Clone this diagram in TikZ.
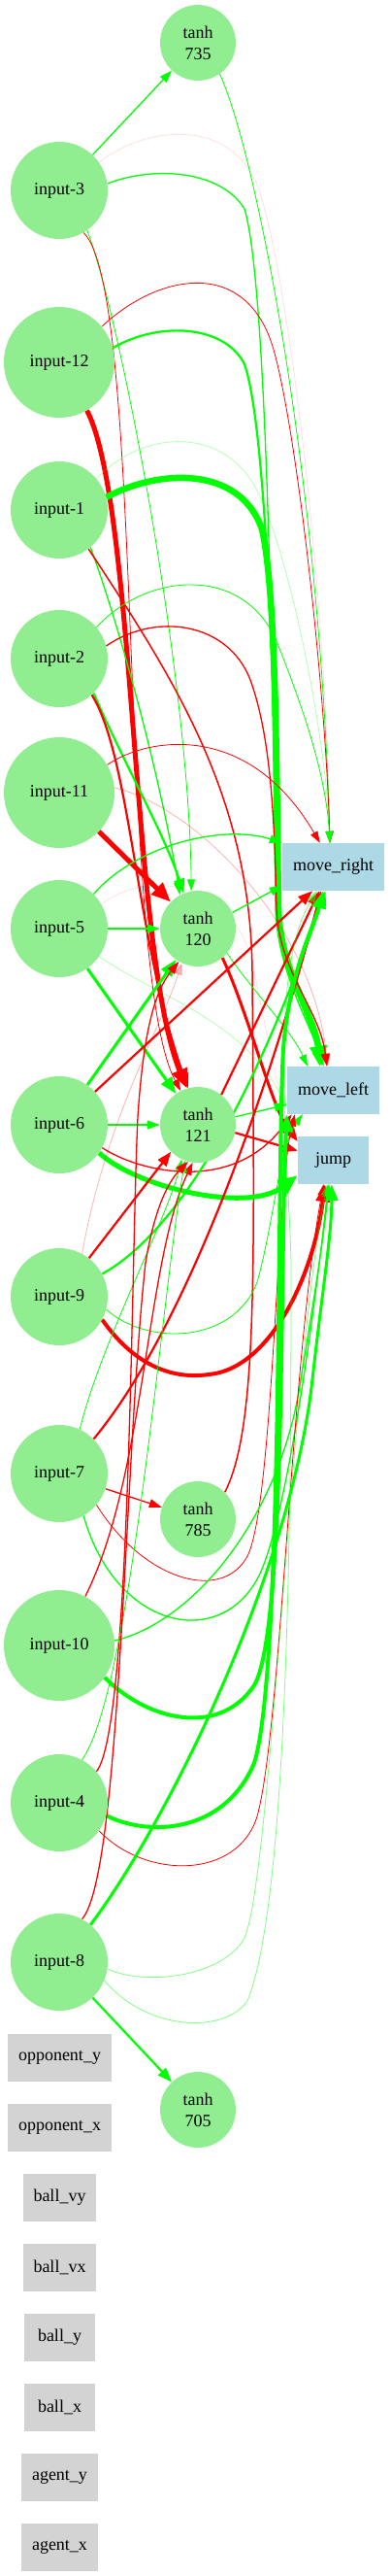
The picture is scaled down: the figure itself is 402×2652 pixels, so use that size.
\documentclass[tikz,border=0pt]{standalone}
\usepackage{fontspec}
\setmainfont{Liberation Serif}
\usetikzlibrary{arrows.meta}
\definecolor{nodegreen}{HTML}{90EE90}
\definecolor{outblue}{HTML}{ADD8E6}
\definecolor{ingray}{HTML}{D3D3D3}
\pgfdeclarelayer{edges}
\pgfsetlayers{edges,main}
\tikzset{
  inp/.style={circle, fill=nodegreen, minimum size=100pt, inner sep=0pt},
  biginp/.style={inp, minimum size=114pt},
  hid/.style={inp, minimum size=78pt, align=center},
  outbox/.style={rectangle, fill=outblue, minimum width=73pt, minimum height=49pt, inner xsep=11pt},
  unusedbox/.style={outbox, fill=ingray},
  excite/.style={color=green},
  inhibit/.style={color=red},
  faint/.style={opacity=0.3},
  vfaint/.style={opacity=0.12},
  half/.style={opacity=0.5},
  wa/.style={line width=0.8pt, -{Triangle[length=12pt,width=8pt]}},
  wb/.style={line width=1.3pt, -{Triangle[length=13pt,width=9pt]}},
  wc/.style={line width=2.2pt, -{Triangle[length=15pt,width=11pt]}},
  wd/.style={line width=3pt, -{Triangle[length=17pt,width=13pt]}},
  wde/.style={line width=4pt, -{Triangle[length=18pt,width=14pt]}},
  we/.style={line width=5pt, -{Triangle[length=20pt,width=16pt]}},
  wf/.style={line width=6.5pt, -{Triangle[length=21pt,width=17pt]}}
}
\begin{document}
\begin{tikzpicture}[x=1pt, y=-1pt, font=\fontsize{18}{22}\selectfont]
        \useasboundingbox (0,0) rectangle (402,2652);
        \node[inp] (in3) at (61,196) {input-3};
        \node[biginp] (in12) at (61,373) {input-12};
        \node[inp] (in1) at (61,525) {input-1};
        \node[inp] (in2) at (61,678) {input-2};
        \node[biginp] (in11) at (61,816) {input-11};
        \node[inp] (in5) at (61,956) {input-5};
        \node[inp] (in6) at (61,1158) {input-6};
        \node[inp] (in9) at (61,1335) {input-9};
        \node[inp] (in7) at (61,1517) {input-7};
        \node[biginp] (in10) at (61,1694) {input-10};
        \node[inp] (in4) at (61,1856) {input-4};
        \node[inp] (in8) at (61,2020) {input-8};
        \node[hid] (t735) at (204,44) {tanh\\735};
        \node[hid] (t120) at (204,956) {tanh\\120};
        \node[hid] (t121) at (204,1158) {tanh\\121};
        \node[hid] (t785) at (204,1564) {tanh\\785};
        \node[hid] (t705) at (204,2172) {tanh\\705};
        \node[outbox] (mr) at (343.5,892.5) {move\_right};
        \node[outbox] (ml) at (343.5,1122.5) {move\_left};
        \node[outbox] (jump) at (343.5,1194.5) {jump};
        \node[unusedbox] (oppy) at (61.5,2118.5) {opponent\_y};
        \node[unusedbox] (oppx) at (61.5,2190.5) {opponent\_x};
        \node[unusedbox] (ballvy) at (61.5,2262.5) {ball\_vy};
        \node[unusedbox] (ballvx) at (61.5,2334.5) {ball\_vx};
        \node[unusedbox] (bally) at (61.5,2406.5) {ball\_y};
        \node[unusedbox] (ballx) at (61.5,2478.5) {ball\_x};
        \node[unusedbox] (agenty) at (61.5,2550.5) {agent\_y};
        \node[unusedbox] (agentx) at (61.5,2622.5) {agent\_x};
        \begin{pgfonlayer}{edges}
        \draw (in3) edge[excite,wb] (t735);
        \draw[inhibit,wa,vfaint] (in3.35) .. controls (150,130) and (235,120) .. (265,190) .. controls (295,270) and (336,600) .. (mr.98);
        \draw[excite,wb] (in3.8) .. controls (160,170) and (228,176) .. (252,215) .. controls (278,300) and (282,800) .. (284,935) .. controls (286,1000) and (318,1050) .. (ml.112);
        \draw[excite,wa] (in3.-55) .. controls (125,330) and (195,700) .. (t120.100);
        \draw[inhibit,wa] (in3.-60) .. controls (150,300) and (120,1000) .. (t121.117);
        \draw[excite,wa] (t735.-55) .. controls (265,160) and (330,500) .. (mr.98);
        \draw[inhibit,wa] (in12.40) .. controls (165,280) and (255,265) .. (282,360) .. controls (305,440) and (335,700) .. (mr.98);
        \draw[excite,wc] (in12.15) .. controls (165,330) and (232,335) .. (252,375) .. controls (278,450) and (284,800) .. (287,935) .. controls (290,1000) and (322,1050) .. (ml.119);
        \draw[inhibit,we] (in12.-60) .. controls (140,520) and (135,980) .. (t121.107);
        \draw[excite,wa,faint] (in1.40) .. controls (150,440) and (232,440) .. (265,505) .. controls (300,575) and (336,760) .. (mr.98);
        \draw[excite,wf] (in1.15) .. controls (165,482) and (248,480) .. (270,545) .. controls (285,610) and (285,800) .. (287,935) .. controls (289,1000) and (322,1040) .. (ml.116);
        \draw[excite,wb] (in1.-50) .. controls (125,650) and (165,800) .. (t120.118);
        \draw[inhibit,line width=1.5pt] (in1.-53) .. controls (180,700) and (258,820) .. (260,1000) .. controls (262,1300) and (266,1470) .. (t785.45);
        \draw[excite,wa] (in2.40) .. controls (150,590) and (250,580) .. (285,660) .. controls (315,735) and (336,800) .. (mr.98);
        \draw[inhibit,wb] (in2.15) .. controls (160,630) and (235,640) .. (258,700) .. controls (280,760) and (283,850) .. (285,935) .. controls (287,1000) and (330,1040) .. (ml.105);
        \draw[excite,wc] (in2.-45) .. controls (125,780) and (170,860) .. (t120.112);
        \draw[inhibit,wc] (in2.-48) .. controls (135,780) and (140,970) .. (t121.105);
        \draw[inhibit,wa] (in11.30) .. controls (150,760) and (255,740) .. (mr.119);
        \draw (in11) edge[inhibit,we] (t120);
        \draw[inhibit,wa,faint] (in11.5) .. controls (200,830) and (322,950) .. (ml.103);
        \draw[excite,wb] (in5.45) .. controls (140,870) and (230,848) .. (mr.north west);
        \draw (in5) edge[excite,wb] (t120);
        \draw (in5) edge[excite,wd] (t121);
        \draw[excite,wa,faint] (in5.-35) .. controls (170,1030) and (250,1050) .. (ml.200);
        \draw[inhibit,wa,vfaint] (in5.30) .. controls (150,895) and (245,905) .. (262,1000) .. controls (278,1080) and (292,1150) .. (jump.150);
        \draw (t120.25) edge[excite,wb] (mr.200);
        \draw[excite,wa] (t120.-40) .. controls (260,1020) and (300,1060) .. (ml.137);
        \draw[inhibit,wd] (t120.-50) .. controls (255,1040) and (280,1140) .. (jump.152);
        \draw (in6) edge[excite,wd] (t120);
        \draw (in6) edge[inhibit,wc] (mr.229);
        \draw (in6) edge[excite,wb] (t121);
        \draw[excite,we] (in6.-35) .. controls (140,1222) and (255,1250) .. (jump.203);
        \draw[inhibit,wb] (in6.-28) .. controls (140,1205) and (240,1232) .. (ml.210);
        \draw (t121.12) edge[excite,wb] (ml.197);
        \draw (t121.-12) edge[inhibit,wc] (jump.165);
        \draw (t121.52) edge[inhibit,wc] (mr.240);
        \draw (in9) edge[inhibit,wc] (t121.225);
        \draw[excite,wc] (in9.28) .. controls (190,1265) and (270,1110) .. (mr.252);
        \draw[inhibit,wde] (in9.-28) .. controls (140,1408) and (180,1420) .. (215,1415) .. controls (275,1410) and (322,1320) .. (jump.251);
        \draw[excite,wa] (in9.-15) .. controls (150,1385) and (240,1385) .. (265,1320) .. controls (282,1260) and (288,1180) .. (ml.218);
        \draw[inhibit,wa,faint] (in9.62) .. controls (110,1150) and (165,1060) .. (t120.245);
        \draw[inhibit,wc] (in7.45) .. controls (185,1375) and (270,1150) .. (mr.243);
        \draw (in7) edge[inhibit,wb] (t785);
        \draw[excite,wa] (in7.65) .. controls (105,1380) and (170,1260) .. (t121.245);
        \draw[inhibit,wa] (in7.-40) .. controls (150,1630) and (232,1650) .. (256,1600) .. controls (282,1540) and (285,1220) .. (ml.212);
        \draw[excite,wb] (in7.-60) .. controls (120,1680) and (230,1700) .. (268,1620) .. controls (300,1550) and (330,1300) .. (jump.258);
        \draw[inhibit,wb] (in10.62) .. controls (150,1520) and (150,1300) .. (t121.262);
        \draw[excite,wb] (in10.5) .. controls (200,1670) and (290,1560) .. (310,1420) .. controls (325,1330) and (334,1270) .. (jump.260);
        \draw[excite,wde] (in10.-35) .. controls (150,1770) and (225,1790) .. (262,1735) .. controls (295,1680) and (288,1300) .. (ml.south west);
        \draw[excite,wde] (in4.-15) .. controls (150,1890) and (230,1890) .. (262,1815) .. controls (292,1720) and (285,1200) .. (292,1080) .. controls (298,1000) and (325,950) .. (mr.247);
        \draw[inhibit,wb] (in4.40) .. controls (135,1780) and (135,1300) .. (142,1150) .. controls (148,1060) and (160,1020) .. (t120.240);
        \draw[inhibit,wa] (in4.-35) .. controls (150,1935) and (245,1935) .. (265,1870) .. controls (290,1780) and (300,1400) .. (jump.248);
        \draw[excite,wa] (in4.62) .. controls (135,1740) and (165,1350) .. (t121.250);
        \draw[excite,wd] (in8.50) .. controls (170,1880) and (300,1620) .. (322,1420) .. controls (332,1330) and (342,1270) .. (jump.266);
        \draw[inhibit,wb] (in8.62) .. controls (125,1930) and (128,1500) .. (150,1300) .. controls (160,1240) and (175,1215) .. (t121.255);
        \draw (in8) edge[excite,wc] (t705);
        \draw[excite,wa,half] (in8.-8) .. controls (150,2045) and (230,2035) .. (252,1995) .. controls (280,1930) and (300,1400) .. (jump.256);
        \draw[excite,wa,half] (in8.-22) .. controls (150,2090) and (230,2095) .. (255,2060) .. controls (300,1950) and (300,1500) .. (300,1300) .. controls (298,1200) and (275,1000) .. (mr.236);
        \end{pgfonlayer}
\end{tikzpicture}
\end{document}
